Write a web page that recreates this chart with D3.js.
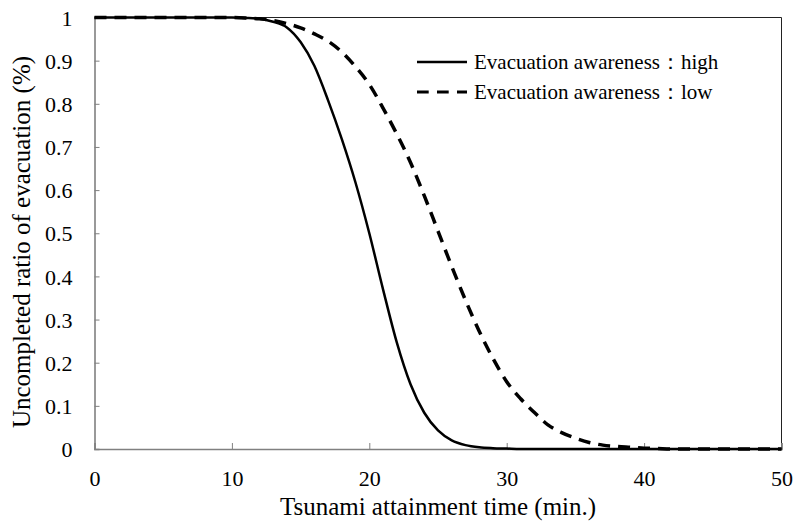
<!DOCTYPE html>
<html>
<head>
<meta charset="utf-8">
<script src="https://cdn.jsdelivr.net/npm/d3@7"></script>
</head>
<body style="margin:0;background:#fff">
<svg id="chart" width="798" height="525"></svg>
<script>
// ---- data ----
const minutes = [0,1,2,3,4,5,6,7,8,9,10,11,12,13,14,15,16,17,18,19,20,21,22,23,24,25,26,27,28,29,30,31,32,33,34,35,36,37,38,39,40,41,42,43,44,45,46,47,48,49,50];
const awarenessHigh = [1,1,1,1,1,1,1,1,1,1,1,0.999,0.997,0.990,0.977,0.943,0.888,0.808,0.718,0.617,0.500,0.370,0.247,0.150,0.084,0.043,0.020,0.009,0.004,0.002,0.001,0,0,0,0,0,0,0,0,0,0,0,0,0,0,0,0,0,0,0,0];
const awarenessLow = [1,1,1,1,1,1,1,1,1,1,1,0.999,0.997,0.993,0.986,0.976,0.962,0.945,0.920,0.886,0.845,0.790,0.730,0.664,0.587,0.505,0.423,0.345,0.273,0.210,0.156,0.117,0.085,0.056,0.038,0.025,0.015,0.009,0.006,0.004,0.002,0.001,0,0,0,0,0,0,0,0,0];
const seriesNames = ["Evacuation awareness\uFF1Ahigh", "Evacuation awareness\uFF1Alow"];
const xTicks = [0,10,20,30,40,50];
const yTicks = [0,0.1,0.2,0.3,0.4,0.5,0.6,0.7,0.8,0.9,1];
const xTitle = "Tsunami attainment time (min.)";
const yTitle = "Uncompleted ratio of evacuation (%)";

// ---- layout ----
const FONT = "'Liberation Serif', 'Times New Roman', Tinos, serif";
const svg = d3.select("#chart");
const L = 94.5, R = 781.5, T = 17.5, B = 449;
const x = d3.scaleLinear().domain([0, 50]).range([L, R]);
const y = d3.scaleLinear().domain([0, 1]).range([B, T]);

// plot border top/right
svg.append("line").attr("x1", L).attr("x2", R).attr("y1", T).attr("y2", T)
  .attr("stroke", "#222").attr("stroke-width", 1);
svg.append("line").attr("x1", R).attr("x2", R).attr("y1", T).attr("y2", B)
  .attr("stroke", "#222").attr("stroke-width", 1);

// axes
const xAxis = d3.axisBottom(x).tickValues(xTicks).tickSize(-6).tickPadding(21).tickFormat(d3.format("d"));
const gx = svg.append("g").attr("transform", `translate(0,${B})`).call(xAxis);
const yAxis = d3.axisLeft(y).tickValues(yTicks).tickSize(-5).tickPadding(22)
  .tickFormat(d => d === 0 ? "0" : d === 1 ? "1" : d3.format(".1f")(d));
const gy = svg.append("g").attr("transform", `translate(${L},0)`).call(yAxis);
[gx, gy].forEach(g => {
  g.attr("font-family", FONT).attr("font-size", 22);
  g.select(".domain").attr("stroke", "#808080").attr("stroke-width", 1.6);
  g.selectAll(".tick line").attr("stroke", "#808080").attr("stroke-width", 1);
  g.selectAll(".tick text").attr("fill", "#000").attr("font-family", FONT).attr("font-size", 22);
});
gy.selectAll(".tick text").attr("dy", "0.35em");

// titles
svg.append("text").attr("x", (L + R) / 2).attr("y", 515).attr("text-anchor", "middle")
  .attr("font-family", FONT).attr("font-size", 25).text(xTitle);
svg.append("text").attr("transform", `translate(30,242) rotate(-90)`)
  .attr("text-anchor", "middle").attr("font-family", FONT).attr("font-size", 25).text(yTitle);

// lines
const lineGen = vals => d3.line()
  .x((d, i) => x(minutes[i]))
  .y(d => y(d))
  .curve(d3.curveMonotoneX)(vals);

svg.append("path").attr("d", lineGen(awarenessLow)).attr("fill", "none")
  .attr("stroke", "#000").attr("stroke-width", 3.5).attr("stroke-dasharray", "12,8");
svg.append("path").attr("d", lineGen(awarenessHigh)).attr("fill", "none")
  .attr("stroke", "#000").attr("stroke-width", 2.5);

// legend
const legend = svg.append("g");
const legY = [62, 92];
legend.append("line").attr("x1", 417).attr("x2", 467).attr("y1", legY[0]).attr("y2", legY[0])
  .attr("stroke", "#000").attr("stroke-width", 2.5);
legend.append("line").attr("x1", 417).attr("x2", 467).attr("y1", legY[1]).attr("y2", legY[1])
  .attr("stroke", "#000").attr("stroke-width", 3).attr("stroke-dasharray", "11.7,8.3");
seriesNames.forEach((n, i) => {
  legend.append("text").attr("x", 474).attr("y", legY[i]).attr("dy", "0.32em")
    .attr("font-family", FONT).attr("font-size", 21).text(n);
});
</script>
</body>
</html>
